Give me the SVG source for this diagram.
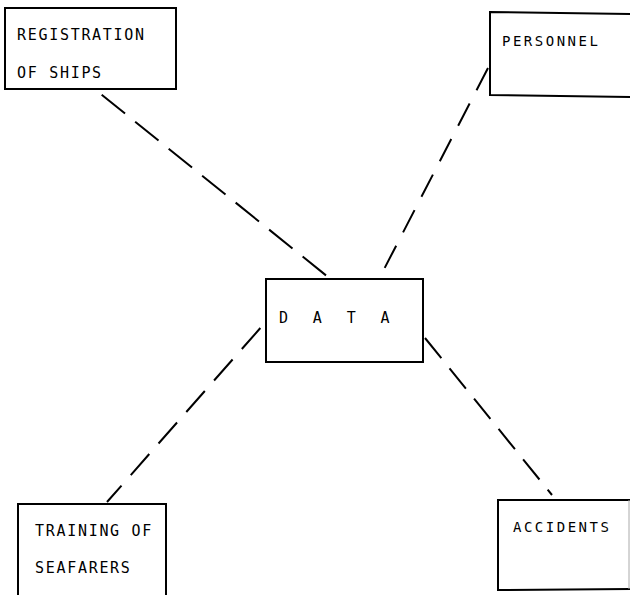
<svg xmlns="http://www.w3.org/2000/svg" width="630" height="595" viewBox="0 0 630 595">
<style>
.box{fill:none;stroke:#000;stroke-width:2}
.lbl{font-family:"DejaVu Sans Mono","Liberation Mono",monospace;font-size:15px;letter-spacing:1.7px;fill:#000}
.sm{font-size:14px;letter-spacing:2.5px}
.conn{stroke:#000;stroke-width:2;fill:none}
</style>
<rect width="630" height="595" fill="#fff"/>
<g id="connectors">
<line class="conn" x1="97" y1="91" x2="328" y2="277" stroke-dasharray="30 13" stroke-dashoffset="-6"/>
<line class="conn" x1="488" y1="68" x2="380" y2="277" stroke-dasharray="25 15"/>
<line class="conn" x1="263" y1="325" x2="107" y2="502" stroke-dasharray="28 14" stroke-dashoffset="-4"/>
<line class="conn" x1="425" y1="338" x2="552" y2="495" stroke-dasharray="26 13"/>
</g>
<g id="registration">
<rect class="box" x="5" y="8" width="171" height="81"/>
<text class="lbl" x="17" y="40">REGISTRATION</text>
<text class="lbl" x="17" y="78">OF SHIPS</text>
</g>
<g id="personnel">
<path class="box" d="M632 14 L490 12 L490 95 L632 97"/>
<text class="lbl sm" x="502" y="46">PERSONNEL</text>
</g>
<g id="data">
<rect class="box" x="266" y="279" width="157" height="83"/>
<text class="lbl" x="279" y="323" style="letter-spacing:7.9px">D A T A</text>
</g>
<g id="training">
<path class="box" d="M18 600 L18 504 L166 504 L166 600"/>
<text class="lbl" x="35" y="536">TRAINING OF</text>
<text class="lbl" x="35" y="573">SEAFARERS</text>
</g>
<g id="accidents">
<path class="box" d="M630 500 L498 500 L498 590 L630 589"/>
<line x1="629" y1="500" x2="629" y2="589" stroke="#aaa" stroke-width="1"/>
<text class="lbl sm" x="513" y="532">ACCIDENTS</text>
</g>
</svg>
